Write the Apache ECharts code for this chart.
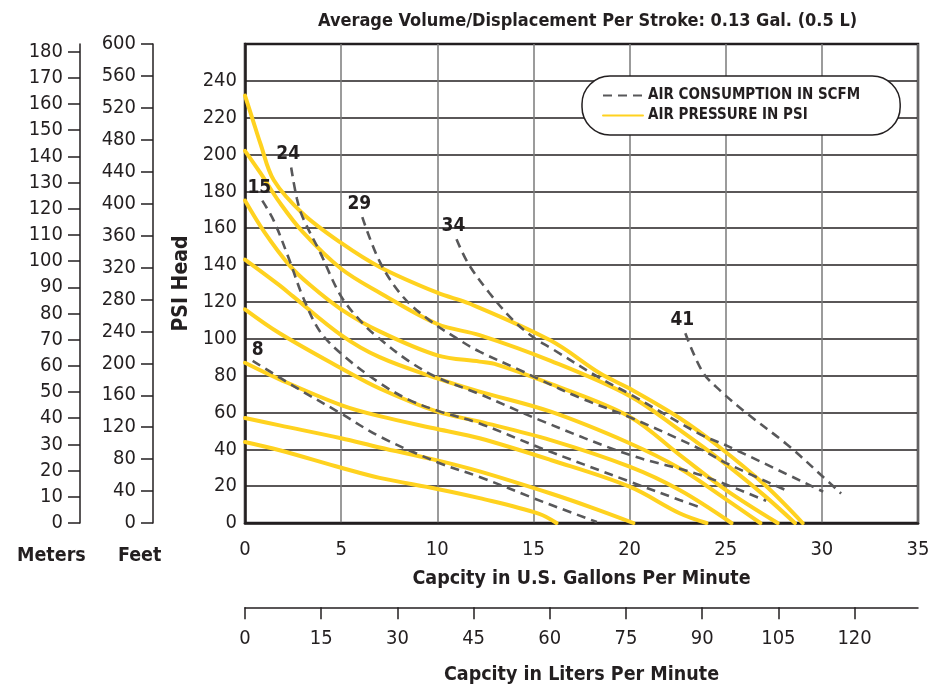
<!DOCTYPE html>
<html><head><meta charset="utf-8">
<script src="https://cdn.jsdelivr.net/npm/echarts@6/dist/echarts.min.js"></script>
<style>html,body{margin:0;padding:0;background:#fff}#c{width:946px;height:686px}</style>
</head><body><div id="c"></div>
<script>
const FONT = "'Liberation Sans Narrow','DejaVu Sans Condensed','Roboto',sans-serif";
const INK = '#231f20';
const YELLOW = '#FFD21F';
const DASH = '#58585a';

// Axis ranges / tick steps
const gpmRange = [0, 35];        // US gallons per minute
const psiRange = [0, 260];       // PSI head
const meterRange = [0, 182.88];  // = 600 ft
const feetRange = [0, 600];
const literRange = [0, 132.49];  // = 35 gal

// Air pressure curves (PSI), [gpm, psi]
const pres232 = [[0,232],[0.4,219],[0.8,206],[1.5,186],[3,168],[5,152],[7,139],[10,125],[11.7,119],[15.9,99],[18.5,81],[20,73],[22.6,57],[24.7,41],[27,21],[29,0]];
const pres202 = [[0,202],[0.8,190],[1.8,174],[3,158],[5,138],[7,125],[10,108],[12.2,102],[15.9,88],[20,69],[22.6,50.5],[25,32],[27,15],[28.6,0]];
const pres175 = [[0,175],[1,158],[2.3,140],[3.4,129],[5,116],[7,104],[10,91],[12.2,87.6],[13.1,86],[15.9,75.5],[20,57.7],[22.6,37],[25,18],[27.7,0]];
const pres143 = [[0,143],[1.8,129],[2.5,123],[5,102],[7,90],[10,78.5],[12.2,71.3],[15.9,60.4],[20,43.3],[22.6,29.7],[25,13],[26.8,0]];
const pres116 = [[0,116],[1.8,103],[5,84],[7,73],[10,60.4],[12.2,55],[15.9,45],[20,30.6],[22.6,17.9],[25.3,0]];
const pres87  = [[0,87],[1.8,78],[5,64],[7,58],[10,51],[12.2,46],[15.9,34.2],[20,19.7],[22.6,5.3],[24,0]];
const pres57  = [[0,57],[1.8,53],[5,46],[7,41],[10,34],[12.2,28],[15.9,16],[18,8.5],[20.2,0]];
const pres44  = [[0,44],[1.8,39.5],[5,30],[7,24.5],[10,18.5],[12.2,13.5],[15.3,5],[16.2,0]];

// Air consumption curves (SCFM), [gpm, psi]
const scfm8  = [[0.4,88],[2.9,72],[4.9,60],[7,47],[10,33],[12.2,25],[15,13.5],[16,9.5],[18.3,0.5]];
const scfm15 = [[0.9,175],[1.5,164],[2.3,143],[3,123],[3.9,104],[5.1,91],[7,76],[8.5,67],[10,61],[12.2,54],[15.3,41],[20,22.5],[22.6,12.5],[23.8,8]];
const scfm24 = [[2.4,193],[2.7,176],[3,166],[3.9,147],[5,123],[6.15,108],[7,100],[8.5,88],[10,79],[12.2,70],[15.3,56],[20,37],[23.7,26],[27.1,12]];
const scfm29 = [[6.1,166],[7,142],[8.2,123],[9.6,110],[11.2,99],[12.2,93],[14.3,83],[15.3,78],[17.4,68],[20.1,57],[23.7,40],[25.05,32.4],[28.3,17]];
const scfm34 = [[11,154],[11.6,141],[12.7,125],[13.95,110],[15.1,100],[15.9,95],[18.4,79],[20.1,69.5],[23.7,48],[25.05,42],[30.07,17]];
const scfm41 = [[22.9,103],[23.8,82],[24.7,72],[26.1,59.5],[28.2,42.5],[30.07,25],[31,16]];

const pressureSet = [pres232, pres202, pres175, pres143, pres116, pres87, pres57, pres44];
const scfmLabels = [8, 15, 24, 29, 34, 41];
const scfmSet = [scfm8, scfm15, scfm24, scfm29, scfm34, scfm41];

const NAME_P = 'AIR PRESSURE IN PSI';
const NAME_A = 'AIR CONSUMPTION IN SCFM';

const series = [];
pressureSet.forEach(d => series.push({
  type: 'line', name: NAME_P, xAxisIndex: 0, yAxisIndex: 0, data: d,
  smooth: 0.35, symbol: 'none', silent: true, z: 3,
  lineStyle: { color: YELLOW, width: 4, cap: 'round' }, itemStyle: { color: YELLOW }
}));
scfmSet.forEach((d, i) => series.push({
  type: 'line', name: NAME_A, xAxisIndex: 0, yAxisIndex: 0, data: d,
  smooth: 0.35, symbol: 'none', silent: true, z: 4,
  lineStyle: { color: DASH, width: 2.6, type: [9, 6] }, itemStyle: { color: DASH },
  markPoint: {
    symbol: 'circle', symbolSize: 1, silent: true,
    itemStyle: { color: 'rgba(0,0,0,0)' },
    label: { show: true, position: 'top', distance: 3, formatter: String(scfmLabels[i]),
      offset: i === 0 ? [5, 2] : [-3, 0],
      fontFamily: FONT, fontWeight: 'bold', fontSize: 19, color: INK },
    data: [{ coord: d[0] }]
  }
}));

const labelStyle = { fontFamily: FONT, fontSize: 20, color: INK };
const nameStyle = { fontFamily: FONT, fontSize: 19.5, fontWeight: 'bold', color: INK };

const option = {
  animation: false,
  backgroundColor: '#fff',
  title: [
    { text: 'Average Volume/Displacement Per Stroke: 0.13 Gal. (0.5 L)', left: 313, top: 7,
      textStyle: { fontFamily: FONT, fontSize: 18, fontWeight: 'bold', color: INK } },
    { text: 'Meters', left: 12, top: 541, textStyle: nameStyle },
    { text: 'Feet', left: 113, top: 541, textStyle: nameStyle }
  ],
  legend: {
    data: [NAME_A, NAME_P], orient: 'vertical', left: 582, top: 76,
    backgroundColor: '#fff', borderColor: INK, borderWidth: 1.5, borderRadius: 28,
    padding: [12, 40, 12, 20], itemGap: 5, itemWidth: 40, itemHeight: 14,
    selectedMode: false,
    itemStyle: { opacity: 0, color: 'rgba(0,0,0,0)', borderWidth: 0 },
    textStyle: { fontFamily: FONT, fontSize: 15, fontWeight: 'bold', color: INK }
  },
  grid: [
    { left: 245, right: 28, top: 44, bottom: 163, show: true, borderColor: INK, borderWidth: 2.5, backgroundColor: 'transparent' },
    { left: 80, width: 10, top: 44, bottom: 163 },
    { left: 153, width: 10, top: 44, bottom: 163 },
    { left: 245, right: 28, top: 607, height: 1 }
  ],
  xAxis: [
    { gridIndex: 0, type: 'value', min: gpmRange[0], max: gpmRange[1], interval: 5,
      axisLine: { show: true, lineStyle: { color: INK, width: 2.5 } },
      axisTick: { show: false },
      axisLabel: Object.assign({ margin: 17 }, labelStyle),
      splitLine: { show: true, lineStyle: { color: '#7a7a7a', width: 1.5 } },
      name: 'Capcity in U.S. Gallons Per Minute', nameLocation: 'middle', nameGap: 46, nameTextStyle: nameStyle },
    { gridIndex: 1, type: 'value', show: false },
    { gridIndex: 2, type: 'value', show: false },
    { gridIndex: 3, type: 'value', min: literRange[0], max: literRange[1], interval: 15,
      axisLine: { show: true, onZero: false, lineStyle: { color: INK, width: 1.5 } },
      axisTick: { show: true, length: 12, lineStyle: { color: INK, width: 1.5 } },
      axisLabel: Object.assign({ margin: 22, showMaxLabel: false,
        formatter: v => (v % 15 === 0 ? String(v) : '') }, labelStyle),
      splitLine: { show: false },
      name: 'Capcity in Liters Per Minute', nameLocation: 'middle', nameGap: 58, nameTextStyle: nameStyle }
  ],
  yAxis: [
    { gridIndex: 0, type: 'value', min: psiRange[0], max: psiRange[1], interval: 20,
      axisLine: { show: true, lineStyle: { color: INK, width: 2.5 } },
      axisTick: { show: false },
      axisLabel: Object.assign({ margin: 8, formatter: v => (v >= 260 ? '' : String(v)) }, labelStyle),
      splitLine: { show: true, lineStyle: { color: INK, width: 1.6 } },
      name: 'PSI Head', nameLocation: 'middle', nameGap: 52, nameTextStyle: Object.assign({}, nameStyle, { fontSize: 21 }) },
    { gridIndex: 1, type: 'value', min: meterRange[0], max: meterRange[1], interval: 10,
      axisLine: { show: true, onZero: false, lineStyle: { color: INK, width: 1.5 } },
      axisTick: { show: true, length: 12, lineStyle: { color: INK, width: 1.5 } },
      axisLabel: Object.assign({ margin: 17, showMaxLabel: false,
        formatter: v => (v % 10 === 0 ? String(v) : '') }, labelStyle),
      splitLine: { show: false } },
    { gridIndex: 2, type: 'value', min: feetRange[0], max: feetRange[1], interval: 40,
      axisLine: { show: true, onZero: false, lineStyle: { color: INK, width: 1.5 } },
      axisTick: { show: true, length: 12, lineStyle: { color: INK, width: 1.5 } },
      axisLabel: Object.assign({ margin: 17 }, labelStyle),
      splitLine: { show: false } },
    { gridIndex: 3, type: 'value', show: false }
  ],
  series: series
};

const chart = echarts.init(document.getElementById('c'), null, { renderer: 'canvas' });
chart.setOption(option);
</script>
</body></html>
